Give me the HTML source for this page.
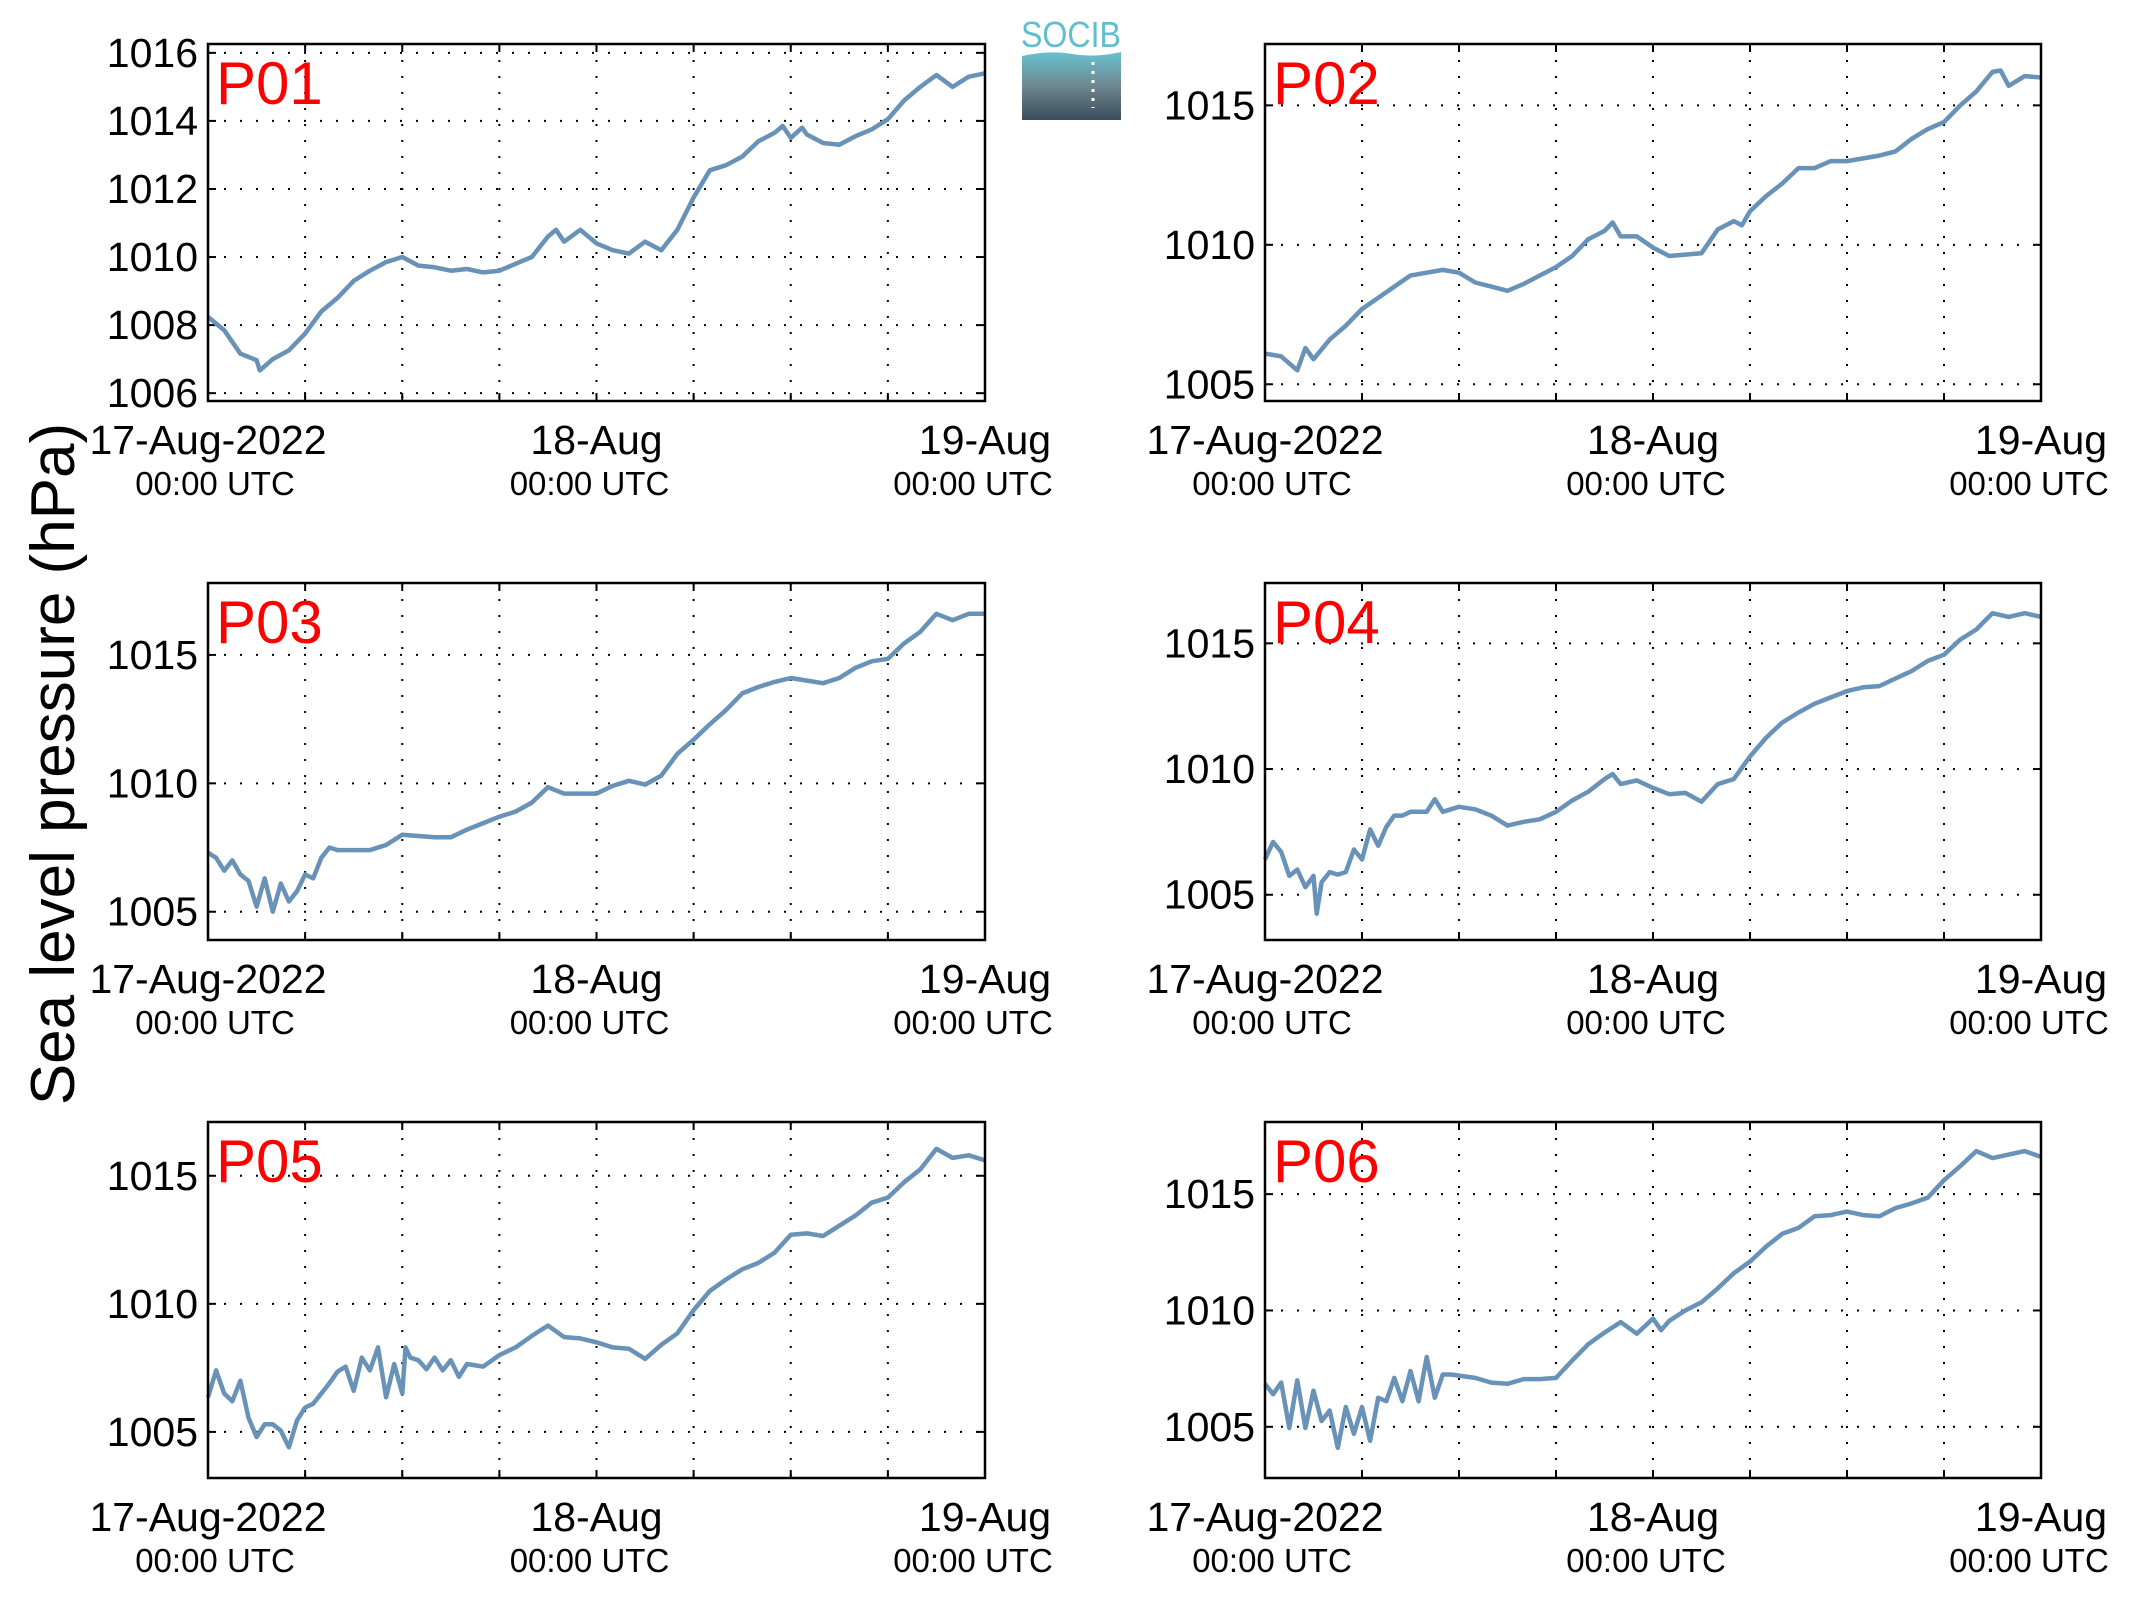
<!DOCTYPE html>
<html><head><meta charset="utf-8"><style>
html,body{margin:0;padding:0;background:#fff;}
svg{display:block;font-family:"Liberation Sans",sans-serif;}
</style></head><body>
<svg id="fig" width="2133" height="1608" viewBox="0 0 2133 1608" xmlns="http://www.w3.org/2000/svg">
<defs><linearGradient id="lg" x1="0" y1="0" x2="0" y2="1"><stop offset="0" stop-color="#67c2d0"/><stop offset="0.5" stop-color="#6f8790"/><stop offset="1" stop-color="#3a4e5b"/></linearGradient></defs>
<rect width="2133" height="1608" fill="#fff"/>
<g>
<text x="1071" y="47" font-size="36" fill="#5fbfcf" text-anchor="middle" textLength="100" lengthAdjust="spacingAndGlyphs">SOCIB</text>
<path d="M1022 56 Q1050 50 1072 54 Q1095 58 1121 52 L1121 120 L1022 120 Z" fill="url(#lg)"/>
<line x1="1093" y1="62" x2="1093" y2="108" stroke="#fff" stroke-width="3" stroke-dasharray="3,6"/>
</g>
<text x="0" y="0" font-size="62" text-anchor="middle" transform="translate(74,764) rotate(-90)">Sea level pressure (hPa)</text>
<g id="panels"></g>
</svg>
<script>
const p01Hours=[0,1,2,3,3.2,4,5,6,7,8,9,10,11,12,13,14,15,16,17,18,19,20,21,21.5,22,23,24,25,26,27,28,29,30,31,32,33,34,35,35.5,36,36.7,37,38,39,40,41,42,43,44,45,46,47,48];
const p01Values=[1008.24,1007.85,1007.16,1006.97,1006.67,1007.0,1007.26,1007.75,1008.4,1008.8,1009.3,1009.6,1009.85,1010.0,1009.75,1009.7,1009.6,1009.65,1009.55,1009.6,1009.8,1010.0,1010.6,1010.8,1010.45,1010.8,1010.4,1010.2,1010.1,1010.45,1010.2,1010.8,1011.75,1012.55,1012.7,1012.95,1013.4,1013.65,1013.85,1013.5,1013.8,1013.6,1013.35,1013.3,1013.55,1013.75,1014.05,1014.6,1015.0,1015.35,1015.0,1015.3,1015.4];
const p02Hours=[0,1,2,2.5,3,4,5,6,7,8,9,10,11,12,13,14,15,16,17,18,19,20,21,21.5,22,23,24,25,26,27,28,29,29.5,30,31,32,33,34,35,36,37,38,39,40,41,42,43,44,45,45.5,46,47,48];
const p02Values=[1006.1,1006.0,1005.5,1006.3,1005.9,1006.6,1007.1,1007.7,1008.1,1008.5,1008.9,1009.0,1009.1,1009.0,1008.65,1008.5,1008.35,1008.6,1008.9,1009.2,1009.6,1010.2,1010.5,1010.8,1010.3,1010.3,1009.9,1009.6,1009.65,1009.7,1010.55,1010.85,1010.7,1011.2,1011.75,1012.2,1012.75,1012.75,1013.0,1013.0,1013.1,1013.2,1013.35,1013.8,1014.15,1014.4,1015.0,1015.5,1016.2,1016.25,1015.7,1016.05,1016.0];
const p03Hours=[0,0.5,1,1.5,2,2.5,3,3.5,4,4.5,5,5.5,6,6.5,7,7.5,8,9,10,11,12,13,14,15,16,17,18,19,20,21,22,23,24,25,26,27,28,29,30,31,32,33,34,35,36,37,38,39,40,41,42,43,44,45,46,47,48];
const p03Values=[1007.3,1007.1,1006.6,1007.0,1006.45,1006.2,1005.2,1006.3,1005.0,1006.1,1005.4,1005.8,1006.45,1006.3,1007.1,1007.5,1007.4,1007.4,1007.4,1007.6,1008.0,1007.95,1007.9,1007.9,1008.2,1008.45,1008.7,1008.9,1009.25,1009.85,1009.6,1009.6,1009.6,1009.9,1010.1,1009.95,1010.3,1011.15,1011.7,1012.3,1012.85,1013.5,1013.75,1013.95,1014.1,1014.0,1013.9,1014.1,1014.5,1014.75,1014.85,1015.45,1015.9,1016.6,1016.35,1016.6,1016.6];
const p04Hours=[0,0.5,1,1.5,2,2.5,3,3.2,3.5,4,4.5,5,5.5,6,6.5,7,7.5,8,8.5,9,10,10.5,11,12,13,14,15,16,17,18,19,20,21,21.5,22,23,24,25,26,27,28,29,30,31,32,33,34,35,36,37,38,39,40,41,42,43,44,45,46,47,48];
const p04Values=[1006.4,1007.1,1006.7,1005.75,1006.0,1005.3,1005.75,1004.25,1005.5,1005.9,1005.8,1005.9,1006.8,1006.4,1007.6,1006.95,1007.7,1008.15,1008.15,1008.3,1008.3,1008.8,1008.3,1008.5,1008.4,1008.15,1007.75,1007.9,1008.0,1008.3,1008.75,1009.1,1009.6,1009.8,1009.4,1009.55,1009.25,1009.0,1009.05,1008.7,1009.4,1009.6,1010.5,1011.25,1011.85,1012.25,1012.6,1012.85,1013.1,1013.25,1013.3,1013.6,1013.9,1014.3,1014.55,1015.15,1015.55,1016.2,1016.05,1016.2,1016.05];
const p05Hours=[0,0.5,1,1.5,2,2.5,3,3.5,4,4.5,5,5.5,6,6.5,7,7.5,8,8.5,9,9.5,10,10.5,11,11.5,12,12.2,12.5,13,13.5,14,14.5,15,15.5,16,17,18,19,20,21,22,23,24,25,26,27,28,29,30,31,32,33,34,35,36,37,38,39,40,41,42,43,44,45,46,47,48];
const p05Values=[1006.35,1007.4,1006.5,1006.2,1007.0,1005.55,1004.8,1005.3,1005.3,1005.05,1004.4,1005.45,1005.95,1006.1,1006.5,1006.9,1007.35,1007.55,1006.6,1007.9,1007.4,1008.3,1006.35,1007.65,1006.5,1008.3,1007.9,1007.8,1007.45,1007.9,1007.4,1007.8,1007.15,1007.65,1007.55,1008.0,1008.3,1008.75,1009.15,1008.7,1008.65,1008.5,1008.3,1008.25,1007.85,1008.4,1008.85,1009.75,1010.5,1010.95,1011.35,1011.6,1012.0,1012.7,1012.75,1012.65,1013.05,1013.45,1013.95,1014.15,1014.75,1015.25,1016.05,1015.7,1015.8,1015.6];
const p06Hours=[0,0.5,1,1.5,2,2.5,3,3.5,4,4.5,5,5.5,6,6.5,7,7.5,8,8.5,9,9.5,10,10.5,11,11.5,12,13,14,15,16,17,18,19,20,21,22,23,24,24.5,25,26,27,28,29,30,31,32,33,34,35,36,37,38,39,40,41,42,43,44,45,46,47,48];
const p06Values=[1006.85,1006.4,1006.9,1004.95,1007.0,1004.95,1006.55,1005.25,1005.7,1004.1,1005.85,1004.7,1005.85,1004.4,1006.25,1006.1,1007.1,1006.1,1007.4,1006.1,1008.0,1006.25,1007.25,1007.25,1007.2,1007.1,1006.9,1006.85,1007.05,1007.05,1007.1,1007.85,1008.55,1009.05,1009.5,1009.0,1009.65,1009.15,1009.55,1010.0,1010.35,1010.95,1011.6,1012.1,1012.75,1013.3,1013.55,1014.05,1014.1,1014.25,1014.1,1014.05,1014.4,1014.6,1014.85,1015.6,1016.2,1016.85,1016.55,1016.7,1016.85,1016.6];
const panelNames=["P01","P02","P03","P04","P05","P06"];
const yTicksA=[1006,1008,1010,1012,1014,1016];
const yTicksB=[1005,1010,1015];
const dateLabels=["17-Aug-2022","18-Aug","19-Aug"];
const dateHours=[0,24,48];
const timeShift=[7,-7,-12];

const NS="http://www.w3.org/2000/svg";
function mk(tag,attrs,parent){const e=document.createElementNS(NS,tag);for(const k in attrs)e.setAttribute(k,attrs[k]);parent.appendChild(e);return e;}
const cfg=[
 {h:p01Hours,v:p01Values,ymin:1005.77,ymax:1016.26,ticks:yTicksA,x0:208,x1:985,y0:44,y1:401},
 {h:p02Hours,v:p02Values,ymin:1004.4,ymax:1017.2,ticks:yTicksB,x0:1265,x1:2041,y0:44,y1:401},
 {h:p03Hours,v:p03Values,ymin:1003.9,ymax:1017.8,ticks:yTicksB,x0:208,x1:985,y0:583,y1:940},
 {h:p04Hours,v:p04Values,ymin:1003.2,ymax:1017.4,ticks:yTicksB,x0:1265,x1:2041,y0:583,y1:940},
 {h:p05Hours,v:p05Values,ymin:1003.2,ymax:1017.1,ticks:yTicksB,x0:208,x1:985,y0:1122,y1:1478},
 {h:p06Hours,v:p06Values,ymin:1002.8,ymax:1018.1,ticks:yTicksB,x0:1265,x1:2041,y0:1122,y1:1478}
];
const root=document.getElementById('panels');
cfg.forEach((c,i)=>{
 const g=mk('g',{},root);
 
 
 const xs=h=>c.x0+(h/48)*(c.x1-c.x0);
 const ys=v=>c.y1-(v-c.ymin)/(c.ymax-c.ymin)*(c.y1-c.y0);
 for(let k=1;k<8;k++){const x=xs(k*6);
  const l=mk('line',{x1:x,y1:c.y0,x2:x,y2:c.y1,stroke:'#000','stroke-width':2,'stroke-dasharray':'2,14'},g);
  
  mk('line',{x1:x,y1:c.y1,x2:x,y2:c.y1-8,stroke:'#000','stroke-width':2},g);
  mk('line',{x1:x,y1:c.y0,x2:x,y2:c.y0+8,stroke:'#000','stroke-width':2},g);
 }
 c.ticks.forEach(t=>{const y=ys(t);
  const l=mk('line',{x1:c.x0,y1:y,x2:c.x1,y2:y,stroke:'#000','stroke-width':2,'stroke-dasharray':'2,14'},g);
  
  mk('line',{x1:c.x0,y1:y,x2:c.x0+8,y2:y,stroke:'#000','stroke-width':2},g);
  mk('line',{x1:c.x1,y1:y,x2:c.x1-8,y2:y,stroke:'#000','stroke-width':2},g);
  const tx=mk('text',{x:c.x0-10,y:y+14,'font-size':41,'text-anchor':'end'},g);tx.textContent=t;
  
 });
 let d='';c.h.forEach((h,j)=>{d+=(j?'L':'M')+xs(h).toFixed(1)+' '+ys(c.v[j]).toFixed(1);});
 const p=mk('path',{d:d,fill:'none',stroke:'#6892b8','stroke-width':4.5,'stroke-linejoin':'round'},g);
 
 const fr=mk('rect',{x:c.x0,y:c.y0,width:c.x1-c.x0,height:c.y1-c.y0,fill:'none',stroke:'#000','stroke-width':2.5},g);
 
 const lb=mk('text',{x:c.x0+8,y:c.y0+60,'font-size':60,fill:'#ff0000'},g);lb.textContent=panelNames[i];
 
 dateHours.forEach((h,k)=>{const x=xs(h);
  const t1=mk('text',{x:x,y:c.y1+53,'font-size':41,'text-anchor':'middle'},g);t1.textContent=dateLabels[k];
  
  const t2=mk('text',{x:x+timeShift[k],y:c.y1+94,'font-size':33,'text-anchor':'middle'},g);t2.textContent='00:00 UTC';
  
 });
});
</script>
</body></html>
